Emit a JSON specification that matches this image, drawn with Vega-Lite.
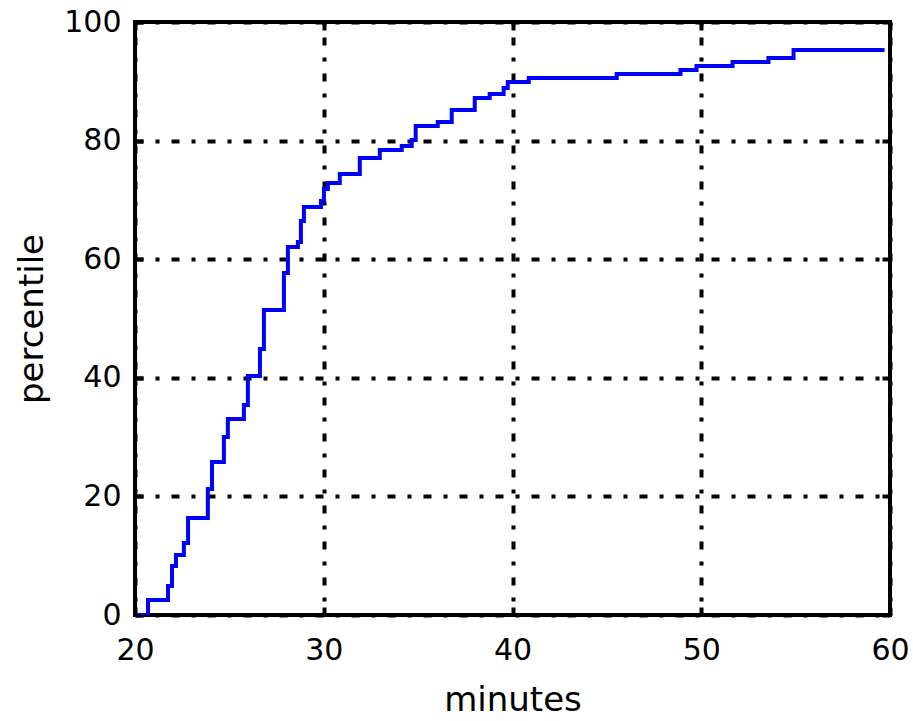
{
  "$schema": "https://vega.github.io/schema/vega-lite/v6.json",
  "width": 755,
  "height": 593,
  "autosize": {"type": "none"},
  "padding": {"left": 135, "top": 22, "right": 23, "bottom": 106},
  "background": "white",
  "config": {
    "view": {"stroke": "black", "strokeWidth": 4},
    "axis": {
      "domain": false,
      "labelFont": "DejaVu Sans",
      "labelFontSize": 30,
      "labelColor": "black",
      "labelFlush": false,
      "labelOverlap": false,
      "titleFont": "DejaVu Sans",
      "titleFontSize": 34,
      "titleFontWeight": "normal",
      "titleColor": "black",
      "tickColor": "black",
      "tickWidth": 4,
      "tickSize": -8,
      "gridColor": "black",
      "gridWidth": 4,
      "gridOpacity": 1,
      "gridDash": [8, 12, 4, 12]
    }
  },
  "data": {
    "values": [
      {"minute": 20.15, "percentile": 0},
      {"minute": 20.69, "percentile": 2.53},
      {"minute": 21.75, "percentile": 4.89},
      {"minute": 21.96, "percentile": 8.26},
      {"minute": 22.17, "percentile": 10.12},
      {"minute": 22.59, "percentile": 12.14},
      {"minute": 22.81, "percentile": 16.36},
      {"minute": 23.86, "percentile": 21.25},
      {"minute": 24.08, "percentile": 25.8},
      {"minute": 24.71, "percentile": 30.02},
      {"minute": 24.92, "percentile": 33.05},
      {"minute": 25.77, "percentile": 35.41},
      {"minute": 25.98, "percentile": 40.3},
      {"minute": 26.62, "percentile": 44.86},
      {"minute": 26.83, "percentile": 51.43},
      {"minute": 27.89, "percentile": 57.67},
      {"minute": 28.1, "percentile": 62.06},
      {"minute": 28.63, "percentile": 62.9},
      {"minute": 28.79, "percentile": 66.44},
      {"minute": 28.95, "percentile": 68.8},
      {"minute": 29.85, "percentile": 69.81},
      {"minute": 30.01, "percentile": 71.84},
      {"minute": 30.22, "percentile": 72.85},
      {"minute": 30.85, "percentile": 74.37},
      {"minute": 31.91, "percentile": 77.07},
      {"minute": 32.97, "percentile": 78.41},
      {"minute": 34.13, "percentile": 79.09},
      {"minute": 34.66, "percentile": 80.1},
      {"minute": 34.87, "percentile": 82.46},
      {"minute": 36.04, "percentile": 83.14},
      {"minute": 36.78, "percentile": 85.16},
      {"minute": 38.0, "percentile": 87.18},
      {"minute": 38.79, "percentile": 87.86},
      {"minute": 39.53, "percentile": 88.87},
      {"minute": 39.75, "percentile": 89.88},
      {"minute": 40.86, "percentile": 90.56},
      {"minute": 45.52, "percentile": 91.23},
      {"minute": 48.9, "percentile": 91.91},
      {"minute": 49.75, "percentile": 92.58},
      {"minute": 51.66, "percentile": 93.25},
      {"minute": 53.56, "percentile": 93.93},
      {"minute": 54.89, "percentile": 95.28},
      {"minute": 59.71, "percentile": 95.28}
    ]
  },
  "layer": [
    {
      "mark": {"type": "line", "interpolate": "step-after", "color": "#0000ff", "strokeWidth": 4, "clip": true},
      "encoding": {
        "x": {
          "field": "minute", "type": "quantitative",
          "scale": {"domain": [20, 60], "nice": false, "zero": false},
          "axis": {"orient": "bottom", "title": "minutes", "values": [20, 30, 40, 50, 60], "grid": true, "gridDashOffset": 21, "labelPadding": 28, "titlePadding": 18}
        },
        "y": {
          "field": "percentile", "type": "quantitative",
          "scale": {"domain": [0, 100], "nice": false, "zero": true},
          "axis": {"orient": "left", "title": "percentile", "values": [0, 20, 40, 60, 80, 100], "grid": true, "gridDashOffset": 0, "labelPadding": 22, "titlePadding": 14}
        }
      }
    },
    {
      "mark": {"type": "line", "opacity": 0},
      "encoding": {
        "x": {
          "field": "minute", "type": "quantitative",
          "axis": {"orient": "top", "title": null, "labels": false, "grid": false, "values": [20, 30, 40, 50, 60]}
        },
        "y": {
          "field": "percentile", "type": "quantitative",
          "axis": {"orient": "right", "title": null, "labels": false, "grid": false, "values": [0, 20, 40, 60, 80, 100]}
        }
      }
    }
  ],
  "resolve": {"axis": {"x": "independent", "y": "independent"}}
}
